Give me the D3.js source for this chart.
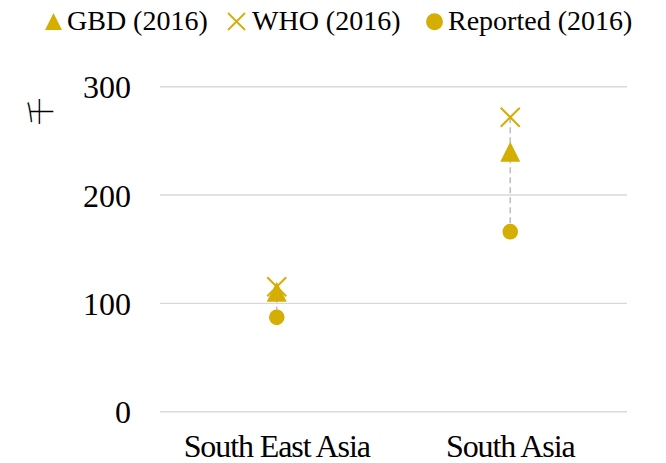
<!DOCTYPE html>
<html><head><meta charset="utf-8">
<script src="https://cdn.jsdelivr.net/npm/d3@7"></script>
<style>
html,body{margin:0;padding:0;background:#fff;}
svg{display:block;font-family:"Liberation Serif","Times New Roman",serif;}
</style></head>
<body>
<svg id="chart" width="666" height="463"></svg>
<script>
const categories = ["South East Asia", "South Asia"];
const gbd = [110.8, 240];
const who = [115.4, 271.8];
const reported = [87.1, 166.2];
const yTicks = [0, 100, 200, 300];
const legendLabels = ["GBD (2016)", "WHO (2016)", "Reported (2016)"];
const yLabel = "千";

const color = "#d5ae04";
const svg = d3.select("#chart");
const x = d3.scaleBand().domain(categories).range([160, 627]).padding(0);
const y = d3.scaleLinear().domain([0, 300]).range([411.7, 86.7]);

// gridlines
svg.append("g").selectAll("line").data(yTicks).join("line")
  .attr("x1", 160).attr("x2", 627)
  .attr("y1", d => y(d)).attr("y2", d => y(d))
  .attr("stroke", "#d9d9d9").attr("stroke-width", 1.4);

// y tick labels
svg.append("g").selectAll("text").data(yTicks).join("text")
  .attr("x", 131).attr("y", d => y(d) + 11.5)
  .attr("text-anchor", "end").attr("font-size", 32).attr("fill", "#000")
  .text(d => d);

// y axis label
svg.append("text").attr("transform", "translate(51,111.5) rotate(-90)")
  .attr("text-anchor", "middle").attr("font-size", 28)
  .attr("font-family", "Noto Sans CJK SC").attr("font-weight", 300).attr("fill", "#000")
  .text(yLabel);

// x labels
svg.append("g").selectAll("text").data(categories).join("text")
  .attr("x", d => x(d) + x.bandwidth() / 2).attr("y", 457.3)
  .attr("text-anchor", "middle").attr("font-size", 32).attr("letter-spacing", "-1.1px")
  .attr("fill", "#000").text(d => d);

const cx = c => x(c) + x.bandwidth() / 2;

// high-low dashed lines
svg.append("g").selectAll("line").data(categories).join("line")
  .attr("x1", d => cx(d)).attr("x2", d => cx(d))
  .attr("y1", (d, i) => y(Math.max(gbd[i], who[i], reported[i])))
  .attr("y2", (d, i) => y(Math.min(gbd[i], who[i], reported[i])))
  .attr("stroke", "#bfbfbf").attr("stroke-width", 1.6).attr("stroke-dasharray", "6,4");

const tri = s => `M0,${-s/2}L${s/2},${s/2}L${-s/2},${s/2}Z`;
const cross = s => `M${-s/2},${-s/2}L${s/2},${s/2}M${s/2},${-s/2}L${-s/2},${s/2}`;

// reported circles
svg.append("g").selectAll("circle").data(categories).join("circle")
  .attr("cx", d => cx(d)).attr("cy", (d, i) => y(reported[i])).attr("r", 7.8)
  .attr("fill", color);
// GBD triangles
svg.append("g").selectAll("path").data(categories).join("path")
  .attr("transform", (d, i) => `translate(${cx(d)},${y(gbd[i])})`)
  .attr("d", tri(20)).attr("fill", color);
// WHO crosses
svg.append("g").selectAll("path").data(categories).join("path")
  .attr("transform", (d, i) => `translate(${cx(d)},${y(who[i])})`)
  .attr("d", cross(19)).attr("fill", "none").attr("stroke", color).attr("stroke-width", 2);

// legend
const lg = svg.append("g");
const legX = [45, 228, 426];
const textX = [67, 252, 448];
lg.append("path").attr("transform", `translate(${legX[0] + 8.5},21.5)`).attr("d", tri(17)).attr("fill", color);
lg.append("path").attr("transform", `translate(${legX[1] + 8.5},21.5)`).attr("d", cross(17)).attr("fill", "none").attr("stroke", color).attr("stroke-width", 1.8);
lg.append("circle").attr("cx", legX[2] + 8.5).attr("cy", 21.7).attr("r", 8.5).attr("fill", color);
lg.selectAll("text").data(legendLabels).join("text")
  .attr("x", (d, i) => textX[i]).attr("y", 30)
  .attr("font-size", 28).attr("fill", "#000").text(d => d);
</script>
</body></html>
